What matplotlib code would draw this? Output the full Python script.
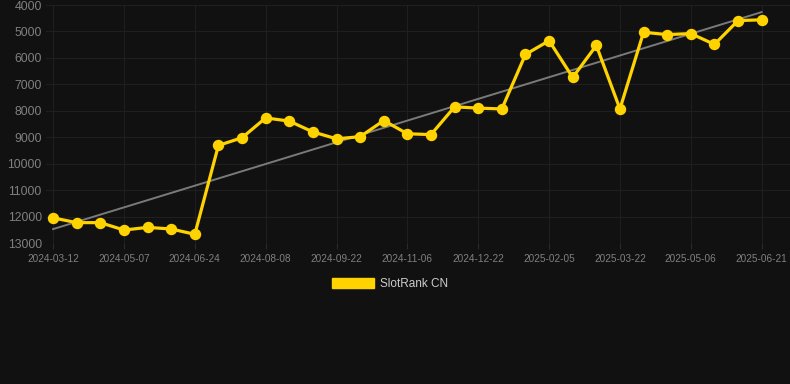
import numpy as np
import matplotlib.pyplot as plt

# dates (only every 3rd one is shown on the axis)
dates = [
    "2024-03-12", "2024-03-31", "2024-04-19", "2024-05-07", "2024-05-23", "2024-06-08",
    "2024-06-24", "2024-07-09", "2024-07-24", "2024-08-08", "2024-08-23", "2024-09-07",
    "2024-09-22", "2024-10-07", "2024-10-22", "2024-11-06", "2024-11-21", "2024-12-07",
    "2024-12-22", "2025-01-06", "2025-01-21", "2025-02-05", "2025-02-20", "2025-03-07",
    "2025-03-22", "2025-04-06", "2025-04-21", "2025-05-06", "2025-05-21", "2025-06-06",
    "2025-06-21",
]
rank = [
    12050, 12230, 12230, 12510, 12410, 12470, 12670, 9310, 9020, 8270,
    8390, 8800, 9060, 8980, 8370, 8870, 8900, 7850, 7900, 7930,
    5870, 5350, 6740, 5530, 7930, 5030, 5120, 5080, 5490, 4590,
    4560,
]
yticks = [4000, 5000, 6000, 7000, 8000, 9000, 10000, 11000, 12000, 13000]

plt.rcParams['font.family'] = ['Liberation Sans', 'DejaVu Sans']

bg = '#111111'
fig = plt.figure(figsize=(7.9, 3.84), dpi=100, facecolor=bg)
ax = fig.add_axes([46 / 790, 1 - 243 / 384, 1 - 46 / 790, 238 / 384], facecolor=bg)

x = np.arange(len(rank))

# trend line from a linear fit
k, b = np.polyfit(x, rank, 1)
ax.plot(x, k * x + b, color='#7a7a7a', lw=1.4, zorder=2)

ax.plot(x, rank, color='#FFD300', lw=2.3, marker='o', markersize=7.2,
        zorder=3, label='SlotRank CN', clip_on=False)

ax.set_ylim(13000, 4000)
ax.set_yticks(yticks)
ax.set_xlim(-0.3, 31.2)
ax.set_xticks(x[::3])
ax.set_xticklabels(dates[::3])

ax.grid(True, color='#1f1f1f', lw=0.8)
for s in ax.spines.values():
    s.set_visible(False)
ax.tick_params(axis='y', colors='#808080', labelsize=8.8, length=0, pad=3)
ax.tick_params(axis='x', colors='#808080', labelsize=7.2, length=4, pad=4, color='#2a2a2a')

leg = fig.legend(handles=[plt.Rectangle((0, 0), 1, 1, color='#FFD300')],
                 labels=['SlotRank CN'], loc='center', bbox_to_anchor=(390 / 790, 1 - 284 / 384),
                 frameon=False, handlelength=3.6, handleheight=1.0, fontsize=8.5,
                 labelcolor='#cccccc', handletextpad=0.5)

fig.savefig('out.png', dpi=100, facecolor=bg)
